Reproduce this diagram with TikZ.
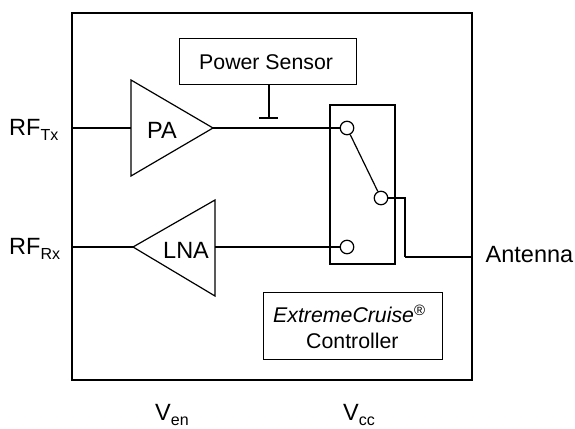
\documentclass[tikz,border=0pt]{standalone}
\usepackage{fontspec}
\setmainfont{Liberation Sans}
\tikzset{
 thick line/.style={line width=1.5pt},
 wire/.style={line width=1.2pt,black},
 box/.style={draw,line width=0.9pt,inner sep=0pt},
 term/.style={circle,draw,line width=1.2pt,fill=white,minimum size=13.5pt,inner sep=0pt},
 lbl/.style={font=\fontsize{23.5pt}{25pt}\selectfont,inner sep=0pt,anchor=base west},
 lblsmall/.style={font=\fontsize{21.3pt}{23pt}\selectfont,inner sep=0pt,anchor=base west},
 amp/.style={draw=black,line width=1.2pt,line join=miter}
}
\newcommand{\subs}[2]{#1\raisebox{-5pt}{\fontsize{16pt}{17pt}\selectfont #2}}
\begin{document}
\begin{tikzpicture}[x=1pt,y=-1pt]
\useasboundingbox (0,0) rectangle (575,428);
\node[draw,thick line,minimum width=400pt,minimum height=367pt,inner sep=0pt] (chip) at (272,196.5) {};
\node[box,minimum width=177pt,minimum height=46pt] (sensor) at (267.5,61) {};
\node[lblsmall] (sensorlabel) at (199,69) {Power Sensor};
\coordinate (pa1) at (131,80);
\coordinate (pa2) at (131,176);
\coordinate (paout) at (213,128);
\coordinate (pain) at (131,128);
\coordinate (ln1) at (215,200);
\coordinate (ln2) at (215,296);
\coordinate (lnin) at (215,247);
\coordinate (lnout) at (133,247);
\draw[amp] (pa1) -- (paout) -- (pa2) -- cycle;
\draw[amp] (ln1) -- (lnout) -- (ln2) -- cycle;
\node[lbl] (palabel) at (147,138) {PA};
\node[lbl] (lnalabel) at (163,258) {LNA};
\node[draw,line width=1.2pt,minimum width=65pt,minimum height=159pt,inner sep=0pt] (sw) at (362.5,184.5) {};
\node[term] (t1) at (347,128) {};
\node[term] (t2) at (381,198) {};
\node[term] (t3) at (347,247) {};
\coordinate (rftx) at (72,128);
\coordinate (rfrx) at (72,247);
\coordinate (stem) at (269,84);
\coordinate (stemend) at (269,118);
\coordinate (tapl) at (259,118);
\coordinate (tapr) at (278,118);
\coordinate (bend1) at (405,198);
\coordinate (bend2) at (405,257);
\coordinate (ant) at (472,257);
\draw[wire] (rftx) -- (pain);
\draw[wire] (paout) -- (t1);
\draw[wire] (rfrx) -- (lnout);
\draw[wire] (lnin) -- (t3);
\draw[wire] (t1) -- (t2);
\draw[wire] (stem) -- (stemend);
\draw[wire] (tapl) -- (tapr);
\draw[wire] (t2) -- (bend1) -- (bend2);
\draw[line width=2.2pt] (bend2) -- (ant);
\node[box,minimum width=179pt,minimum height=67pt] (ctrl) at (352.5,325.5) {};
\node[lblsmall] (ctrla) at (273,322) {\textit{ExtremeCruise}\raisebox{7pt}{\fontsize{15pt}{16pt}\selectfont\textregistered}};
\node[lblsmall] (ctrlb) at (306,348) {Controller};
\node[lbl] (rf1) at (9,135) {\subs{RF}{Tx}};
\node[lbl] (rf2) at (9,254) {\subs{RF}{Rx}};
\node[lbl] (antl) at (485.5,262) {Antenna};
\node[lbl] (ven) at (155,420) {\subs{V}{en}};
\node[lbl] (vcc) at (343,420) {\subs{V}{cc}};
\end{tikzpicture}
\end{document}
